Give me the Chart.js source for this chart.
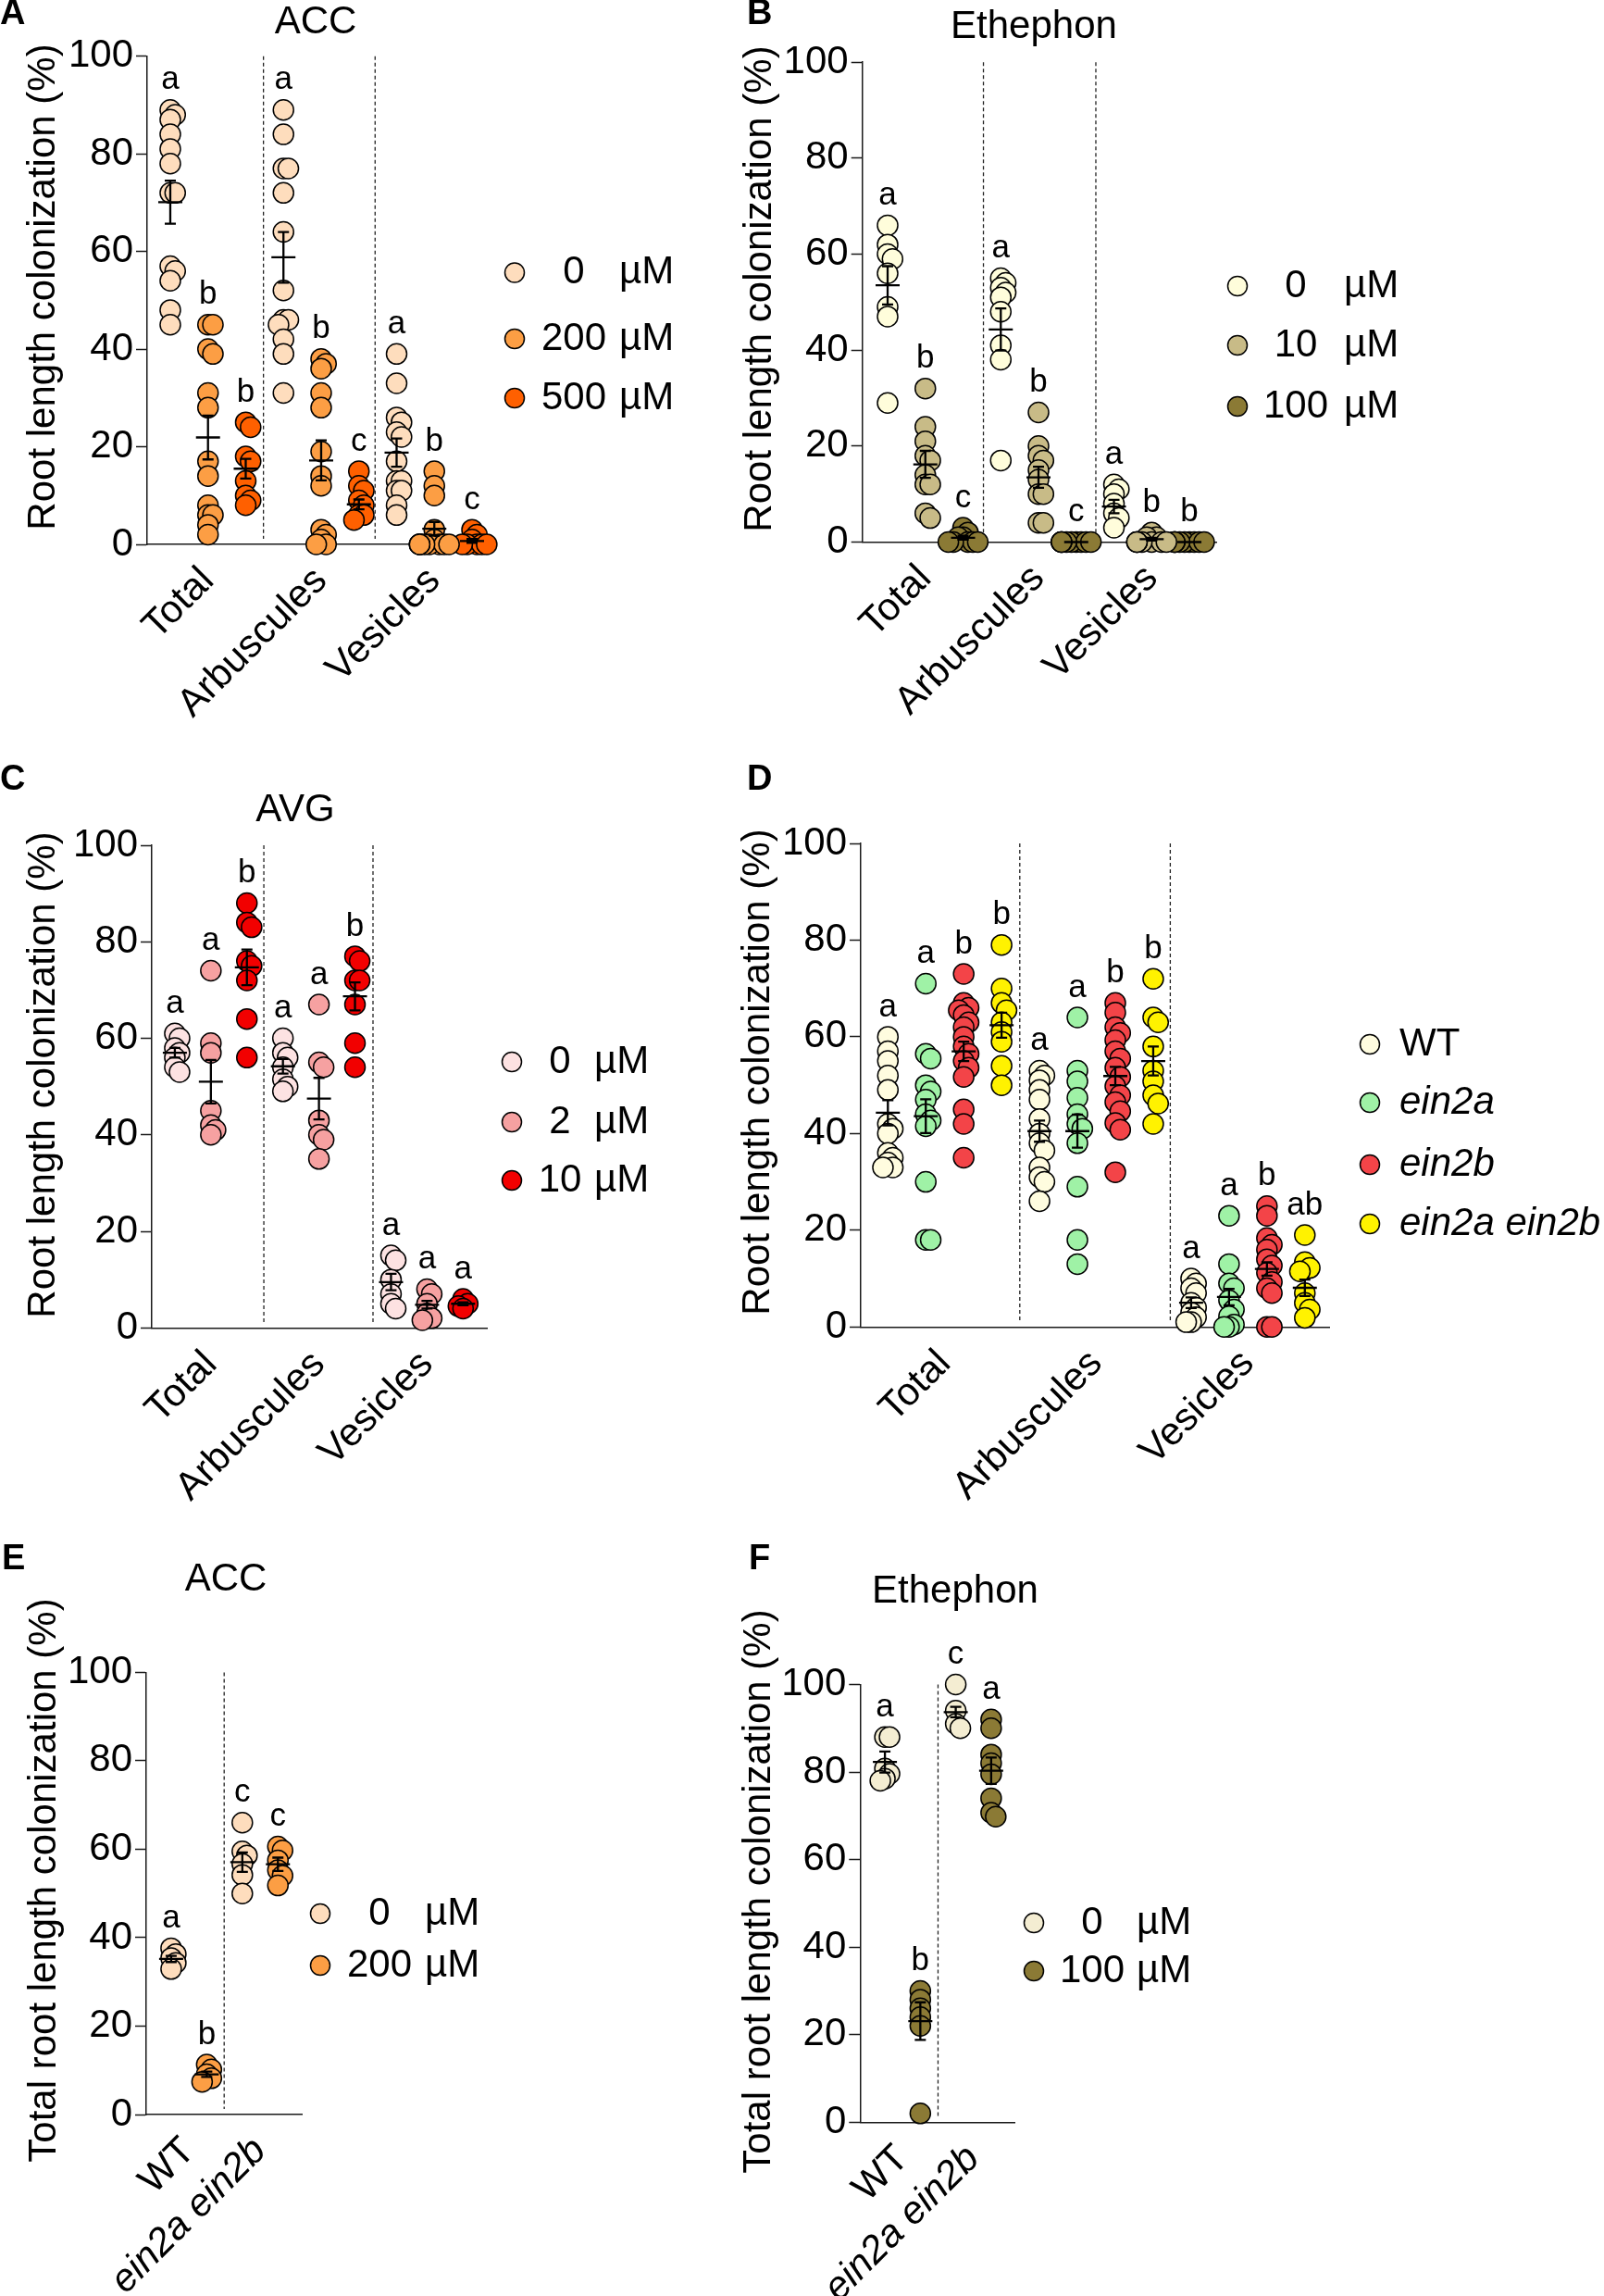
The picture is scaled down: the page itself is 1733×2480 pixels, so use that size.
<!DOCTYPE html>
<html>
<head>
<meta charset="utf-8">
<script src="https://cdn.jsdelivr.net/npm/chart.js@4.4.1/dist/chart.umd.min.js"></script>
<style>
  body { margin: 0; background: #fff; }
  #page { position: relative; width: 1733px; height: 2480px; background: #fff; }
  canvas { position: absolute; }
</style>
</head>
<body>
<div id="page">
  <canvas id="cA" width="780" height="815" style="left:0px;top:0px"></canvas>
  <canvas id="cB" width="953" height="815" style="left:780px;top:0px"></canvas>
  <canvas id="cC" width="780" height="840" style="left:0px;top:815px"></canvas>
  <canvas id="cD" width="953" height="840" style="left:780px;top:815px"></canvas>
  <canvas id="cE" width="780" height="825" style="left:0px;top:1655px"></canvas>
  <canvas id="cF" width="953" height="825" style="left:780px;top:1655px"></canvas>
</div>
<script>
const FONT = "'Liberation Sans', Arial, Helvetica, sans-serif";

// ---- Panel A: ACC ----
const accCats = ['Total', 'Arbuscules', 'Vesicles'];
const accDoses = ['0', '200', '500'];
const acc0 = [[89, 88, 87, 84, 81, 78, 72, 72, 57, 56, 54, 48, 45],
              [89, 84, 77, 77, 72, 64, 52, 46, 46, 45, 42, 39, 31],
              [39, 33, 26, 25, 23, 22, 17, 13, 13, 11, 11, 8, 6]];
const acc200 = [[45, 45, 40, 39, 31, 28, 17, 14, 8, 6, 6, 4, 2],
                [38, 37, 36, 31, 28, 19, 14, 12, 3, 2, 1, 0, 0],
                [15, 12, 10, 3, 1, 0, 0, 0, 0, 0, 0, 0, 0]];
const acc500 = [[25, 24, 18, 17, 13, 10, 9, 8],
                [15, 12, 11, 9, 8, 6, 6, 5],
                [3, 2, 1, 0, 0, 0, 0, 0]];
const accMeans = [70.1, 21.9, 15.5, 58.8, 17.2, 8.2, 18.8, 3.2, 0.7];
const accSem = [4.4, 4.5, 2.0, 5.2, 4.1, 1.0, 2.9, 1.4, 0.4];
const accSig = ['a', 'b', 'b', 'a', 'b', 'c', 'a', 'b', 'c'];

// ---- Panel B: Ethephon ----
const ethCats = ['Total', 'Arbuscules', 'Vesicles'];
const ethDoses = ['0', '10', '100'];
const eth0 = [[66, 62, 60, 59, 56, 49, 47, 29],
              [55, 54, 53, 52, 51, 48, 41, 38, 17],
              [12, 11, 10, 8, 6, 5, 3]];
const eth10 = [[32, 24, 21, 18, 17, 14, 12, 12, 6, 5],
               [27, 20, 18, 17, 15, 13, 10, 10, 4, 4],
               [2, 1, 1, 0, 0, 0, 0, 0, 0, 0]];
const eth100 = [[3, 2, 1, 1, 0, 0, 0, 0, 0],
                [0, 0, 0, 0, 0, 0, 0, 0, 0],
                [0, 0, 0, 0, 0, 0, 0, 0, 0]];
const ethMeans = [53.5, 16.2, 0.9, 44.3, 13.5, 0, 7.4, 0.6, 0];
const ethSem = [4.0, 2.8, 0.4, 4.4, 2.2, 0, 1.4, 0.3, 0];
const ethSig = ['a', 'b', 'c', 'a', 'b', 'c', 'a', 'b', 'b'];

// ---- Panel C: AVG ----
const avgCats = ['Total', 'Arbuscules', 'Vesicles'];
const avgDoses = ['0', '2', '10'];
const avg0 = [[61, 60, 58, 57, 56, 54, 53],
              [60, 57, 56, 54, 51.5, 50, 49],
              [15, 14, 10, 7, 5, 4]];
const avg2 = [[74, 59, 57, 45, 42, 41, 40],
              [67, 55, 54, 43, 40, 39, 35],
              [8, 7, 5, 3, 2, 1.6]];
const avg10 = [[88, 84, 83, 76, 75, 72, 64, 56],
               [77, 76, 72, 72, 67, 59, 54],
               [6, 5, 4.5, 4]];
const avgMeans = [57, 51, 74.7, 54.2, 47.5, 68.7, 9.5, 4.8, 5];
const avgSem = [1.0, 4.5, 3.7, 1.5, 4.3, 2.9, 1.7, 0.8, 0.3];
const avgSig = ['a', 'a', 'b', 'a', 'a', 'b', 'a', 'a', 'a'];

// ---- Panel D: mutants ----
const mutCats = ['Total', 'Arbuscules', 'Vesicles'];
const mutLines = ['WT', 'ein2a', 'ein2b', 'ein2a ein2b'];
const mutWT = [[60, 57, 55, 52, 49, 42, 41, 40, 36, 35, 34, 33, 33],
               [53, 52, 51, 49, 47, 43, 40, 38, 36.5, 33, 31, 30, 26],
               [10, 9, 8, 7, 5, 4, 3, 2, 1, 1]];
const mutA = [[71, 56.5, 55.5, 50, 48.7, 47, 44, 42.7, 41.5, 30, 18, 18],
              [64, 53, 50.8, 47.4, 44, 42, 41, 38, 29, 18, 13],
              [23, 13, 9, 8, 5.5, 3.6, 2.2, 0.5, 0, 0]];
const mutB = [[73, 67, 66, 65.5, 64.5, 63, 62, 60, 58, 56.5, 55, 53.6, 51.7, 45, 42, 35],
              [67, 65, 62, 60.8, 59.3, 57, 55.5, 53.6, 51.7, 49.8, 47.9, 46.5, 44.6, 42.2, 40.8, 32],
              [25, 23, 18.4, 17, 16, 14, 12.7, 11.2, 9.3, 8, 7, 0, 0]];
const mutAB = [[79, 70, 67, 65.5, 63, 61, 59, 54, 50],
               [72, 64, 63, 58, 53, 50.8, 47.9, 46.2, 42],
               [19, 13.4, 12.2, 11.5, 7, 5, 3.6, 1.9]];
const mutMeans = [44.3, 43.6, 57, 62.4, 40.5, 40.5, 51.9, 55, 5, 6.2, 12, 8.1];
const mutSem = [2.6, 3.5, 2.0, 2.6, 2.2, 3.4, 1.9, 3.0, 1.1, 1.7, 1.4, 1.7];
const mutSig = ['a', 'a', 'b', 'b', 'a', 'a', 'b', 'b', 'a', 'a', 'b', 'ab'];

// ---- Panel E: ACC on WT / double mutant ----
const genoCats = ['WT', 'ein2a ein2b'];
const accEDoses = ['0', '200'];
const accE0 = [[37.6, 36.3, 35.4, 34.3, 32.9], [66, 59.5, 58.6, 56.7, 54.2, 50]];
const accE200 = [[11.3, 10.2, 9.1, 8.2, 7.4], [60.6, 59.7, 57.5, 55.3, 54, 51.8]];
const accEMeans = [35.2, 9.1, 57.1, 56.6];
const accESem = [0.7, 0.6, 2.2, 1.5];
const accESig = ['a', 'b', 'c', 'c'];

// ---- Panel F: Ethephon on WT / double mutant ----
const ethFDoses = ['0', '100'];
const ethF0 = [[88, 88, 80.8, 79.6, 78.5, 78], [100, 94, 91, 90]];
const ethF100 = [[30, 28, 26, 24, 22, 2], [92, 90, 84, 82, 79.5, 74, 70.7, 69.8]];
const ethFMeans = [82.3, 23.1, 93.7, 80.3];
const ethFSem = [2.4, 4.3, 1.2, 3.0];
const ethFSig = ['a', 'b', 'c', 'a'];

const yTicks = [0, 20, 40, 60, 80, 100];

// small beeswarm offsets so overlapping circles spread sideways
function spread(vals) {
    const order = vals.map((v, i) => i).sort((a, b) => vals[b] - vals[a]);
    const steps = [0, 0.13, -0.13, 0.26, -0.26, 0.39, -0.39];
    const offs = new Array(vals.length).fill(0);
    const placed = [];
    order.forEach(i => {
        const v = vals[i];
        let pick = steps[steps.length - 1];
        for (const s of steps) {
            if (!placed.some(p => Math.abs(p.v - v) < 2 && Math.abs(p.o - s) < 0.12)) { pick = s; break; }
        }
        placed.push({ v: v, o: pick });
        offs[i] = pick;
    });
    return offs;
}

function drawCircle(ctx, x, y, r, fill) {
    ctx.beginPath();
    ctx.arc(x, y, r, 0, Math.PI * 2);
    ctx.fillStyle = fill;
    ctx.fill();
    ctx.lineWidth = 1.5;
    ctx.strokeStyle = '#000';
    ctx.stroke();
}

function makePanel(p) {
    const nS = p.series.length;
    const centers = p.cats.map((c, i) => i * nS + (nS - 1) / 2);

    const datasets = p.series.map((name, s) => {
        const pts = [];
        p.values[s].forEach((vals, c) => {
            const offs = spread(vals);
            vals.forEach((v, k) => pts.push({ x: c * nS + s + offs[k], y: v }));
        });
        return {
            label: name,
            data: pts,
            backgroundColor: p.colors[s],
            borderColor: '#000',
            borderWidth: 1.5,
            pointRadius: 11,
            pointHoverRadius: 11,
            clip: false
        };
    });

    const decor = {
        id: 'decor',
        beforeDatasetsDraw(chart) {
            const { ctx, scales: { x, y } } = chart;
            ctx.save();
            ctx.setLineDash([4, 3]);
            ctx.lineWidth = 1.3;
            ctx.strokeStyle = '#222';
            p.seps.forEach(s => {
                const px = x.getPixelForValue(s);
                ctx.beginPath();
                ctx.moveTo(px, y.getPixelForValue(100));
                ctx.lineTo(px, y.getPixelForValue(0) - 6);
                ctx.stroke();
            });
            ctx.restore();
        },
        afterDatasetsDraw(chart) {
            const { ctx, scales: { x, y } } = chart;
            ctx.save();
            ctx.strokeStyle = '#000';
            ctx.lineWidth = 2.3;
            // mean +/- SEM
            p.means.forEach((m, i) => {
                const px = x.getPixelForValue(i);
                const pm = y.getPixelForValue(m);
                const hi = y.getPixelForValue(m + p.sem[i]);
                const lo = y.getPixelForValue(Math.max(0, m - p.sem[i]));
                ctx.beginPath();
                ctx.moveTo(px - 13, pm); ctx.lineTo(px + 13, pm);
                ctx.moveTo(px, hi); ctx.lineTo(px, lo);
                ctx.moveTo(px - 6, hi); ctx.lineTo(px + 6, hi);
                ctx.moveTo(px - 6, lo); ctx.lineTo(px + 6, lo);
                ctx.stroke();
            });
            // significance letters above highest point
            ctx.fillStyle = '#000';
            ctx.font = '35px ' + FONT;
            ctx.textAlign = 'center';
            ctx.textBaseline = 'middle';
            p.sig.forEach((t, i) => {
                const c = Math.floor(i / nS), s = i % nS;
                const top = Math.max.apply(null, p.values[s][c]);
                ctx.fillText(t, x.getPixelForValue(i), y.getPixelForValue(top) - 32);
            });
            ctx.restore();
        },
        afterDraw(chart) {
            const ctx = chart.ctx;
            const L = p.left, T = p.top;
            ctx.save();
            ctx.fillStyle = '#000';
            ctx.textBaseline = 'middle';
            // panel letter
            ctx.font = 'bold 38px ' + FONT;
            ctx.textAlign = 'left';
            ctx.fillText(p.letter, p.letterX - L, p.letterY - T);
            // panel title
            ctx.font = '42px ' + FONT;
            if (p.title) {
                ctx.textAlign = 'center';
                ctx.fillText(p.title, p.titleX - L, p.titleY - T);
            }
            // y axis title
            ctx.save();
            ctx.translate(p.yTitleX - L, p.yTitleY - T);
            ctx.rotate(-Math.PI / 2);
            ctx.textAlign = 'center';
            ctx.fillText(p.yTitle, 0, 0);
            ctx.restore();
            // legend
            const lg = p.legend;
            p.series.forEach((name, s) => {
                const ly = lg.ys[s] - T;
                drawCircle(ctx, lg.markerX - L, ly, 10.5, p.colors[s]);
                ctx.fillStyle = '#000';
                if (lg.unitX) {
                    ctx.font = '42px ' + FONT;
                    ctx.textAlign = 'center';
                    ctx.fillText(name, lg.numX - L, ly);
                    ctx.textAlign = 'left';
                    ctx.fillText('µM', lg.unitX - L, ly);
                } else {
                    ctx.font = (name === 'WT' ? '' : 'italic ') + '42px ' + FONT;
                    ctx.textAlign = 'left';
                    ctx.fillText(name, lg.textX - L, ly);
                }
            });
            ctx.restore();
        }
    };

    return new Chart(document.getElementById(p.canvas), {
        type: 'scatter',
        data: { datasets: datasets },
        options: {
            responsive: false,
            animation: false,
            events: [],
            layout: {
                autoPadding: false,
                padding: { top: p.yTop - p.top, right: p.w - (p.xEnd - p.left), bottom: 0, left: 0 }
            },
            plugins: { legend: { display: false }, tooltip: { enabled: false } },
            scales: {
                x: {
                    type: 'linear',
                    min: p.xMin,
                    max: p.xMax,
                    afterBuildTicks: sc => { sc.ticks = centers.map(v => ({ value: v })); },
                    afterFit: sc => { sc.height = p.h - (p.yBot - p.top); },
                    grid: { display: false },
                    border: { display: true, color: '#1a1a1a', width: 1.5 },
                    ticks: {
                        autoSkip: false,
                        minRotation: 45,
                        maxRotation: 45,
                        padding: 7,
                        color: '#000',
                        font: ctx => ({
                            family: FONT, size: 42,
                            style: (ctx.tick && ctx.tick.label === 'ein2a ein2b') ? 'italic' : 'normal'
                        }),
                        callback: (v, i) => p.cats[i]
                    }
                },
                y: {
                    min: 0,
                    max: 100,
                    afterBuildTicks: sc => { sc.ticks = yTicks.map(v => ({ value: v })); },
                    afterFit: sc => { sc.width = p.axisX - p.left; },
                    grid: { drawOnChartArea: false, drawTicks: true, tickLength: 12, tickWidth: 1.5, tickColor: '#1a1a1a' },
                    border: { display: true, color: '#1a1a1a', width: 1.5 },
                    ticks: { padding: 3, color: '#000', font: { family: FONT, size: 42 } }
                }
            }
        },
        plugins: [decor]
    });
}

const ROOT = 'Root length colonization (%)';
const TOTAL = 'Total root length colonization (%)';

makePanel({
    canvas: 'cA', left: 0, top: 0, w: 780, h: 815,
    axisX: 159, xEnd: 536, yTop: 60.7, yBot: 588, xMin: -0.613, xMax: 8.638, seps: [2.47, 5.43],
    cats: accCats, series: accDoses, values: [acc0, acc200, acc500],
    colors: ['#FEDDBD', '#FC9E44', '#FF6000'],
    means: accMeans, sem: accSem, sig: accSig,
    letter: 'A', letterX: 0, letterY: 16, title: 'ACC', titleX: 341, titleY: 24,
    yTitle: ROOT, yTitleX: 47, yTitleY: 310,
    legend: { markerX: 556, ys: [294.5, 366, 430], numX: 620, unitX: 669 }
});

makePanel({
    canvas: 'cB', left: 780, top: 0, w: 953, h: 815,
    axisX: 931.7, xEnd: 1314.8, yTop: 67.2, yBot: 585.5, xMin: -0.67, xMax: 8.73, seps: [2.54, 5.52],
    cats: ethCats, series: ethDoses, values: [eth0, eth10, eth100],
    colors: ['#FFFDDB', '#C8BB87', '#8B7A35'],
    means: ethMeans, sem: ethSem, sig: ethSig,
    letter: 'B', letterX: 807, letterY: 16, title: 'Ethephon', titleX: 1117, titleY: 29,
    yTitle: ROOT, yTitleX: 821, yTitleY: 312,
    legend: { markerX: 1337, ys: [309, 373, 439], numX: 1400, unitX: 1452 }
});

makePanel({
    canvas: 'cC', left: 0, top: 815, w: 780, h: 840,
    axisX: 164, xEnd: 526, yTop: 913, yBot: 1434.3, xMin: -0.64, xMax: 8.66, seps: [2.47, 5.5],
    cats: avgCats, series: avgDoses, values: [avg0, avg2, avg10],
    colors: ['#FDE2E2', '#F6A1A1', '#F20000'],
    means: avgMeans, sem: avgSem, sig: avgSig,
    letter: 'C', letterX: 0, letterY: 843, title: 'AVG', titleX: 319, titleY: 875,
    yTitle: ROOT, yTitleX: 47, yTitleY: 1161,
    legend: { markerX: 553, ys: [1147, 1212, 1275], numX: 605, unitX: 642 }
});

makePanel({
    canvas: 'cD', left: 780, top: 815, w: 953, h: 840,
    axisX: 930, xEnd: 1436.4, yTop: 911, yBot: 1433.3, xMin: -0.715, xMax: 11.65, seps: [3.48, 7.45],
    cats: mutCats, series: mutLines, values: [mutWT, mutA, mutB, mutAB],
    colors: ['#FFFCDF', '#9FF2A6', '#F34448', '#FFF200'],
    means: mutMeans, sem: mutSem, sig: mutSig,
    letter: 'D', letterX: 807, letterY: 843, title: null,
    yTitle: ROOT, yTitleX: 819.5, yTitleY: 1158,
    legend: { markerX: 1480, ys: [1128, 1191, 1258, 1322], textX: 1512 }
});

makePanel({
    canvas: 'cE', left: 0, top: 1655, w: 780, h: 825,
    axisX: 158, xEnd: 326.4, yTop: 1806.4, yBot: 2284, xMin: -0.7, xMax: 3.68, seps: [1.49],
    cats: genoCats, series: accEDoses, values: [accE0, accE200],
    colors: ['#FEDDBD', '#FC9E44'],
    means: accEMeans, sem: accESem, sig: accESig,
    letter: 'E', letterX: 2, letterY: 1685, title: 'ACC', titleX: 244, titleY: 1706,
    yTitle: TOTAL, yTitleX: 48, yTitleY: 2031,
    legend: { markerX: 346, ys: [2067, 2123], numX: 410, unitX: 459 }
});

makePanel({
    canvas: 'cF', left: 780, top: 1655, w: 953, h: 825,
    axisX: 929.3, xEnd: 1096.5, yTop: 1819.5, yBot: 2292.3, xMin: -0.7, xMax: 3.67, seps: [1.5],
    cats: genoCats, series: ethFDoses, values: [ethF0, ethF100],
    colors: ['#F4EDD2', '#8B7A35'],
    means: ethFMeans, sem: ethFSem, sig: ethFSig,
    letter: 'F', letterX: 809, letterY: 1685, title: 'Ethephon', titleX: 1032, titleY: 1719,
    yTitle: TOTAL, yTitleX: 820, yTitleY: 2043,
    legend: { markerX: 1117, ys: [2077, 2129], numX: 1180, unitX: 1228 }
});
</script>
</body>
</html>
